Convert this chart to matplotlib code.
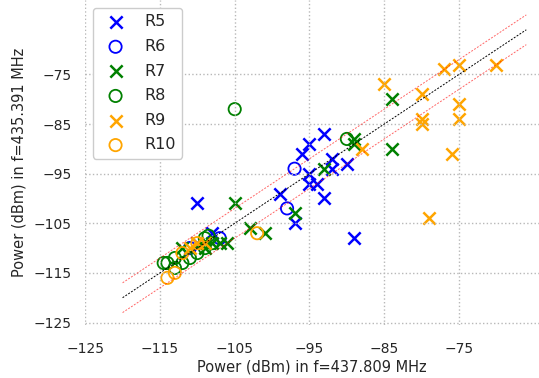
import numpy as np
import matplotlib
matplotlib.use("Agg")
import matplotlib.pyplot as plt

# received power pairs (x: 437.809 MHz, y: 435.391 MHz), dBm
r5_x = [-93, -95, -96, -92, -90, -92, -95, -95, -94, -93, -99, -97, -89, -110, -108, -110]
r5_y = [-87, -89, -91, -92, -93, -94, -95, -97, -97, -100, -99, -105, -108, -101, -107, -109]

r6_x = [-97, -98, -107, -111]
r6_y = [-94, -102, -108, -110]

r7_x = [-84, -84, -89, -89, -93, -97, -105, -103, -101, -106, -112, -108, -107, -109]
r7_y = [-80, -90, -88, -89, -94, -103, -101, -106, -107, -109, -110, -109, -109, -110]

r8_x = [-105, -90, -114, -113, -113, -112, -111, -110, -109, -109, -108, -108.5, -114.5]
r8_y = [-82, -88, -113, -112, -114, -113, -112, -111, -110, -108, -109, -107.5, -113]

r9_x = [-85, -77, -75, -70, -80, -75, -75, -80, -80, -76, -79, -88, -111, -110, -109]
r9_y = [-77, -74, -73, -73, -79, -81, -84, -84, -85, -91, -104, -90, -110, -109, -109]

r10_x = [-114, -113, -102, -110, -112]
r10_y = [-116, -115, -107, -109, -111]

ref_line = [-120, -66]
margin = 3

series = [
    ("R5", r5_x, r5_y, "x", "blue"),
    ("R6", r6_x, r6_y, "o", "blue"),
    ("R7", r7_x, r7_y, "x", "green"),
    ("R8", r8_x, r8_y, "o", "green"),
    ("R9", r9_x, r9_y, "x", "orange"),
    ("R10", r10_x, r10_y, "o", "orange"),
]

plt.rcParams["font.family"] = "DejaVu Sans"
fig = plt.figure(figsize=(5.39, 3.78), dpi=100)
ax = fig.add_axes([85.2 / 539, 53 / 378, 1 - 85.2 / 539, 325 / 378])

for name, xs, ys, mk, col in series:
    if mk == "o":
        ax.scatter(xs, ys, s=78, marker="o", facecolors="none", edgecolors=col,
                   linewidths=1.3, label=name)
    else:
        ax.scatter(xs, ys, s=78, marker="x", color=col, linewidths=1.8, label=name)

line = np.array(ref_line)
ax.plot(line, line, "k--", lw=0.7, dashes=(2, 1.5))
ax.plot(line, line + margin, "--", color="red", alpha=0.6, lw=0.7, dashes=(2, 1.5))
ax.plot(line, line - margin, "--", color="red", alpha=0.6, lw=0.7, dashes=(2, 1.5))

ax.set_xlim(-125, -64.3)
ax.set_ylim(-125.5, -60)
ax.set_xticks(np.arange(-125, -74, 10))
ax.set_yticks(np.arange(-125, -74, 10))
ax.grid(True, linestyle=":", color="#b8b8b8", linewidth=1.0)
for s in ax.spines.values():
    s.set_visible(False)
ax.tick_params(axis="both", length=0, labelsize=10, colors="#262626")
ax.tick_params(axis="x", pad=12)
ax.tick_params(axis="y", pad=10)

ax.set_xlabel("Power (dBm) in f=437.809 MHz", fontsize=10.5, color="#262626", labelpad=3)
ax.set_ylabel("Power (dBm) in f=435.391 MHz", fontsize=10.5, color="#262626", labelpad=5)

leg = ax.legend(loc="upper left", fontsize=11.5, scatterpoints=1, frameon=True,
                edgecolor="#cccccc", framealpha=1.0, labelspacing=0.6)
for t in leg.get_texts():
    t.set_color("#262626")

fig.savefig("out.png", dpi=100)
